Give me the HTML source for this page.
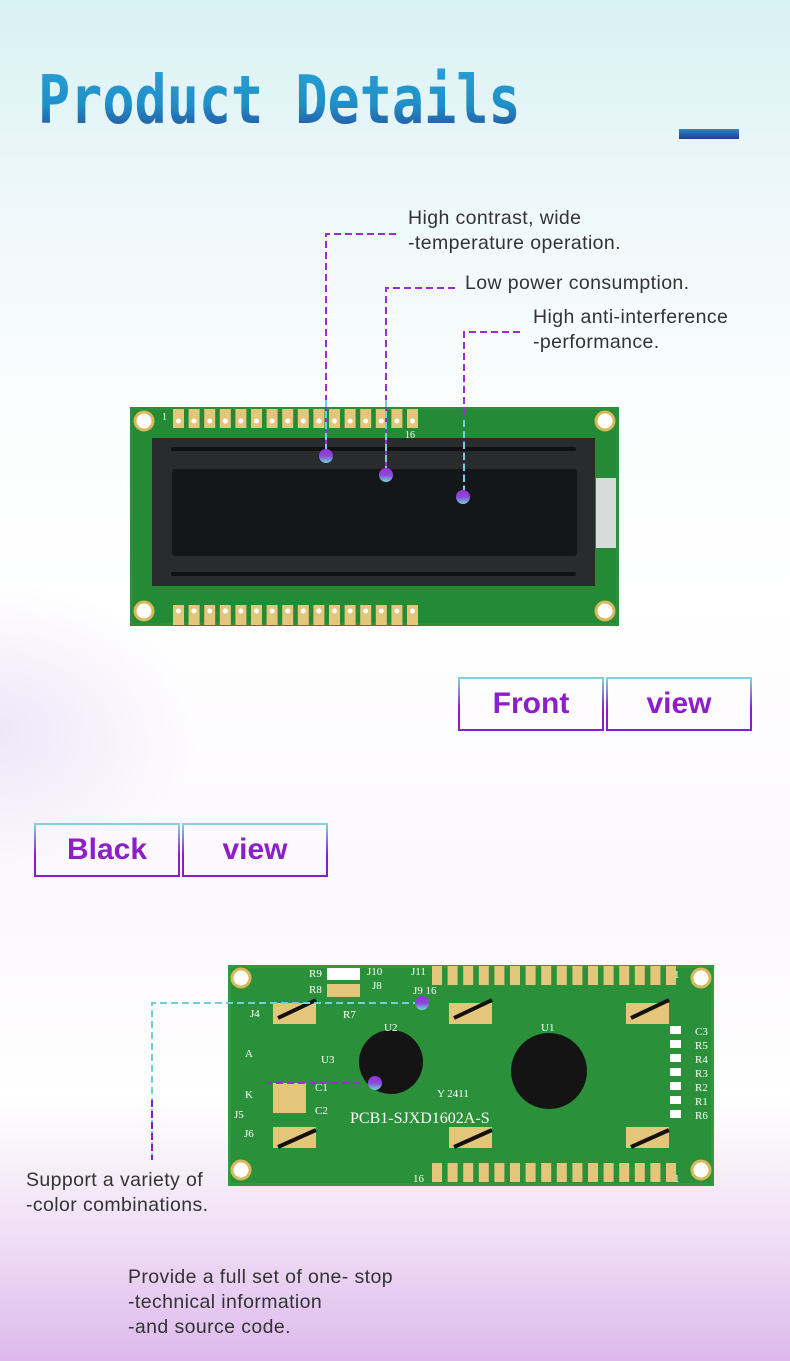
<!DOCTYPE html>
<html><head><meta charset="utf-8"><style>
body{margin:0;}
.page{position:relative;width:790px;height:1361px;overflow:hidden;font-family:"Liberation Sans",sans-serif;
background:linear-gradient(180deg,#d8f1f3 0px,#eef8fa 200px,#fbfdfe 400px,#ffffff 600px,#fbf8fd 900px,#ffffff 1100px,#f1e0f6 1230px,#ddb9ec 1361px);}
.glow{position:absolute;left:-220px;top:580px;width:420px;height:300px;border-radius:50%;background:radial-gradient(ellipse at center,rgba(225,212,244,.55),rgba(255,255,255,0) 70%);}
.title{position:absolute;left:38px;top:62px;font-family:"DejaVu Sans Mono","Liberation Mono",monospace;font-weight:bold;font-size:64px;letter-spacing:0px;white-space:nowrap;
background:linear-gradient(180deg,#2aa2d6 0%,#1f8fc8 55%,#2a3f92 100%);-webkit-background-clip:text;background-clip:text;color:transparent;transform:scale(0.835,1.05);transform-origin:top left;}
.bar{position:absolute;left:679px;top:129px;width:60px;height:10px;background:linear-gradient(180deg,#2a88c8,#273c8e);}
.t{position:absolute;color:#333;font-size:19.5px;line-height:25px;letter-spacing:.4px;white-space:nowrap;}
.btn{position:absolute;height:50px;border:2px solid;border-image:linear-gradient(180deg,#7fd6dc,#8a1dc8 60%,#8a1dc8) 1;color:#8d1fc9;font-weight:bold;font-size:30px;text-align:center;line-height:50px;box-sizing:content-box;}
svg{position:absolute;left:0;top:0;}
</style></head><body><div class="page">
<div class="glow"></div>
<div class="title">Product Details</div>
<div class="bar"></div>
<div class="t" style="left:408px;top:206px">High contrast, wide<br>-temperature operation.</div>
<div class="t" style="left:465px;top:271px">Low power consumption.</div>
<div class="t" style="left:533px;top:305px">High anti-interference<br>-performance.</div>
<div class="btn" style="left:458px;top:677px;width:142px">Front</div>
<div class="btn" style="left:606px;top:677px;width:142px">view</div>
<div class="btn" style="left:34px;top:823px;width:142px">Black</div>
<div class="btn" style="left:182px;top:823px;width:142px">view</div>
<div class="t" style="left:26px;top:1168px">Support a variety of<br>-color combinations.</div>
<div class="t" style="left:128px;top:1265px">Provide a full set of one- stop<br>-technical information<br>-and source code.</div>

<svg width="790" height="1361" viewBox="0 0 790 1361">
<defs>
<linearGradient id="dot" x1="0" y1="0" x2="0" y2="1"><stop offset="0" stop-color="#9b2fd8"/><stop offset="0.5" stop-color="#8a4ad8"/><stop offset="1" stop-color="#6fd6dc"/></linearGradient>
<linearGradient id="vl" x1="0" y1="0" x2="0" y2="1"><stop offset="0" stop-color="#8a1dc8"/><stop offset="1" stop-color="#6fd0dc"/></linearGradient>
</defs>
<!-- FRONT PCB -->
<rect x="130" y="407" width="489" height="219" fill="#2c8f3a"/>
<rect x="133" y="410" width="483" height="213" fill="#258a35"/>
<g fill="#fff" stroke="#d9b85a" stroke-width="3">
<circle cx="144" cy="421" r="9"/><circle cx="605" cy="421" r="9"/><circle cx="144" cy="611" r="9"/><circle cx="605" cy="611" r="9"/></g>
<g fill="#e3c67a">
<rect x="173" y="409" width="11" height="19"/><rect x="188.6" y="409" width="11" height="19"/><rect x="204.2" y="409" width="11" height="19"/><rect x="219.8" y="409" width="11" height="19"/><rect x="235.4" y="409" width="11" height="19"/><rect x="251" y="409" width="11" height="19"/><rect x="266.6" y="409" width="11" height="19"/><rect x="282.2" y="409" width="11" height="19"/><rect x="297.8" y="409" width="11" height="19"/><rect x="313.4" y="409" width="11" height="19"/><rect x="329" y="409" width="11" height="19"/><rect x="344.6" y="409" width="11" height="19"/><rect x="360.2" y="409" width="11" height="19"/><rect x="375.8" y="409" width="11" height="19"/><rect x="391.4" y="409" width="11" height="19"/><rect x="407" y="409" width="11" height="19"/>
<rect x="173" y="605" width="11" height="20"/><rect x="188.6" y="605" width="11" height="20"/><rect x="204.2" y="605" width="11" height="20"/><rect x="219.8" y="605" width="11" height="20"/><rect x="235.4" y="605" width="11" height="20"/><rect x="251" y="605" width="11" height="20"/><rect x="266.6" y="605" width="11" height="20"/><rect x="282.2" y="605" width="11" height="20"/><rect x="297.8" y="605" width="11" height="20"/><rect x="313.4" y="605" width="11" height="20"/><rect x="329" y="605" width="11" height="20"/><rect x="344.6" y="605" width="11" height="20"/><rect x="360.2" y="605" width="11" height="20"/><rect x="375.8" y="605" width="11" height="20"/><rect x="391.4" y="605" width="11" height="20"/><rect x="407" y="605" width="11" height="20"/>
</g>
<g fill="#fff"><circle cx="178.5" cy="421" r="2.5"/><circle cx="194" cy="421" r="2.5"/><circle cx="209.7" cy="421" r="2.5"/><circle cx="225.3" cy="421" r="2.5"/><circle cx="240.9" cy="421" r="2.5"/><circle cx="256.5" cy="421" r="2.5"/><circle cx="272.1" cy="421" r="2.5"/><circle cx="287.7" cy="421" r="2.5"/><circle cx="303.3" cy="421" r="2.5"/><circle cx="318.9" cy="421" r="2.5"/><circle cx="334.5" cy="421" r="2.5"/><circle cx="350.1" cy="421" r="2.5"/><circle cx="365.7" cy="421" r="2.5"/><circle cx="381.3" cy="421" r="2.5"/><circle cx="396.9" cy="421" r="2.5"/><circle cx="412.5" cy="421" r="2.5"/>
<circle cx="178.5" cy="611" r="2.5"/><circle cx="194" cy="611" r="2.5"/><circle cx="209.7" cy="611" r="2.5"/><circle cx="225.3" cy="611" r="2.5"/><circle cx="240.9" cy="611" r="2.5"/><circle cx="256.5" cy="611" r="2.5"/><circle cx="272.1" cy="611" r="2.5"/><circle cx="287.7" cy="611" r="2.5"/><circle cx="303.3" cy="611" r="2.5"/><circle cx="318.9" cy="611" r="2.5"/><circle cx="334.5" cy="611" r="2.5"/><circle cx="350.1" cy="611" r="2.5"/><circle cx="365.7" cy="611" r="2.5"/><circle cx="381.3" cy="611" r="2.5"/><circle cx="396.9" cy="611" r="2.5"/><circle cx="412.5" cy="611" r="2.5"/></g>
<text x="162" y="420" font-size="10" fill="#fff" font-family="Liberation Serif">1</text>
<text x="405" y="438" font-size="10" fill="#fff" font-family="Liberation Serif">16</text>
<rect x="596" y="478" width="20" height="70" fill="#d8dcd8"/>
<rect x="152" y="438" width="443" height="148" fill="#2a2b2c"/>
<rect x="171" y="447" width="405" height="4" rx="2" fill="#111"/>
<rect x="171" y="572" width="405" height="4" rx="2" fill="#111"/>
<rect x="172" y="469" width="405" height="87" rx="3" fill="#141719"/>
<g fill="none" stroke-width="2" stroke-dasharray="7,4">
<path d="M396 234 H326 V450" stroke="#9a2fd8"/>
<path d="M455 288 H386 V468" stroke="#9a2fd8"/>
<path d="M520 332 H464 V490" stroke="#9a2fd8"/>
</g>
<g fill="none" stroke="#6fd0dc" stroke-width="2" stroke-dasharray="7,4">
<path d="M326 400 V450"/><path d="M386 400 V468"/><path d="M464 420 V490"/>
</g>
<circle cx="326" cy="456" r="7" fill="url(#dot)"/>
<circle cx="386" cy="475" r="7" fill="url(#dot)"/>
<circle cx="463" cy="497" r="7" fill="url(#dot)"/>

<!-- BACK PCB -->
<rect x="228" y="965" width="486" height="221" fill="#2f9a3e"/>
<rect x="231" y="968" width="480" height="215" fill="#2a9039"/>
<g fill="#fff" stroke="#d9b85a" stroke-width="3">
<circle cx="241" cy="978" r="9"/><circle cx="701" cy="978" r="9"/><circle cx="241" cy="1170" r="9"/><circle cx="701" cy="1170" r="9"/></g>
<g fill="#e3c67a">
<rect x="432" y="966" width="10" height="19"/><rect x="447.6" y="966" width="10" height="19"/><rect x="463.2" y="966" width="10" height="19"/><rect x="478.8" y="966" width="10" height="19"/><rect x="494.4" y="966" width="10" height="19"/><rect x="510" y="966" width="10" height="19"/><rect x="525.6" y="966" width="10" height="19"/><rect x="541.2" y="966" width="10" height="19"/><rect x="556.8" y="966" width="10" height="19"/><rect x="572.4" y="966" width="10" height="19"/><rect x="588" y="966" width="10" height="19"/><rect x="603.6" y="966" width="10" height="19"/><rect x="619.2" y="966" width="10" height="19"/><rect x="634.8" y="966" width="10" height="19"/><rect x="650.4" y="966" width="10" height="19"/><rect x="666" y="966" width="10" height="19"/>
<rect x="432" y="1163" width="10" height="19"/><rect x="447.6" y="1163" width="10" height="19"/><rect x="463.2" y="1163" width="10" height="19"/><rect x="478.8" y="1163" width="10" height="19"/><rect x="494.4" y="1163" width="10" height="19"/><rect x="510" y="1163" width="10" height="19"/><rect x="525.6" y="1163" width="10" height="19"/><rect x="541.2" y="1163" width="10" height="19"/><rect x="556.8" y="1163" width="10" height="19"/><rect x="572.4" y="1163" width="10" height="19"/><rect x="588" y="1163" width="10" height="19"/><rect x="603.6" y="1163" width="10" height="19"/><rect x="619.2" y="1163" width="10" height="19"/><rect x="634.8" y="1163" width="10" height="19"/><rect x="650.4" y="1163" width="10" height="19"/><rect x="666" y="1163" width="10" height="19"/>
<rect x="273" y="1003" width="43" height="21"/><rect x="449" y="1003" width="43" height="21"/><rect x="626" y="1003" width="43" height="21"/>
<rect x="273" y="1127" width="43" height="21"/><rect x="449" y="1127" width="43" height="21"/><rect x="626" y="1127" width="43" height="21"/>
<rect x="273" y="1083" width="33" height="30"/>
<rect x="327" y="984" width="33" height="13"/>
</g>
<g stroke="#111" stroke-width="4">
<path d="M278 1018 L316 1000"/><path d="M454 1018 L492 1000"/><path d="M631 1018 L669 1000"/>
<path d="M278 1147 L316 1130"/><path d="M454 1147 L492 1130"/><path d="M631 1147 L669 1130"/>
</g>
<rect x="327" y="968" width="33" height="12" fill="#fff"/>
<g fill="#fff"><rect x="670" y="1026" width="11" height="8"/><rect x="670" y="1040" width="11" height="8"/><rect x="670" y="1054" width="11" height="8"/><rect x="670" y="1068" width="11" height="8"/><rect x="670" y="1082" width="11" height="8"/><rect x="670" y="1096" width="11" height="8"/><rect x="670" y="1110" width="11" height="8"/></g>
<circle cx="391" cy="1062" r="32" fill="#141414"/>
<circle cx="549" cy="1071" r="38" fill="#141414"/>
<g font-family="Liberation Serif" fill="#fff" font-size="11">
<text x="309" y="977">R9</text><text x="309" y="993">R8</text><text x="367" y="975">J10</text><text x="411" y="975">J11</text><text x="372" y="989">J8</text><text x="413" y="994">J9 16</text>
<text x="250" y="1017">J4</text><text x="343" y="1018">R7</text><text x="384" y="1031">U2</text><text x="541" y="1031">U1</text>
<text x="321" y="1063">U3</text><text x="245" y="1057">A</text><text x="245" y="1098">K</text><text x="234" y="1118">J5</text><text x="244" y="1137">J6</text>
<text x="315" y="1091">C1</text><text x="315" y="1114">C2</text><text x="437" y="1097">Y 2411</text>
<text x="695" y="1035">C3</text><text x="695" y="1049">R5</text><text x="695" y="1063">R4</text><text x="695" y="1077">R3</text><text x="695" y="1091">R2</text><text x="695" y="1105">R1</text><text x="695" y="1119">R6</text>
<text x="674" y="978">1</text><text x="413" y="1182">16</text><text x="674" y="1182">1</text>
<text x="350" y="1123" font-size="16">PCB1-SJXD1602A-S</text>
</g>
<g fill="none" stroke-width="2" stroke-dasharray="7,4">
<path d="M420 1003 H152 V1160" stroke="#6fd0dc"/>
<path d="M152 1100 V1160" stroke="#8a1dc8"/>
<path d="M360 1083 H268" stroke="#9a2fd8"/>
<path d="M267 1083 V1262" stroke="url(#vl)"/>
</g>
<circle cx="422" cy="1003" r="7" fill="url(#dot)"/>
<circle cx="375" cy="1083" r="7" fill="url(#dot)"/>
</svg>
</div></body></html>
